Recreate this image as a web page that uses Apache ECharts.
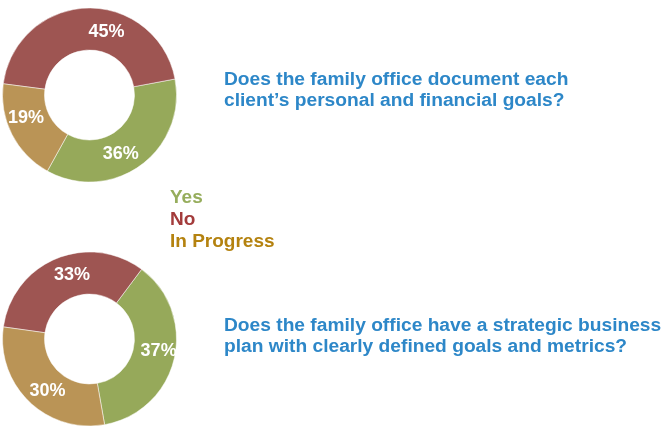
<!DOCTYPE html>
<html>
<head>
<meta charset="utf-8">
<script src="https://cdn.jsdelivr.net/npm/echarts@6/dist/echarts.min.js"></script>
<style>
html,body{margin:0;padding:0;background:#fff;}
#chart{width:671px;height:440px;}
</style>
</head>
<body>
<div id="chart"></div>
<script>
const categories = ['Yes', 'No', 'In Progress'];
const q1Values = [36, 45, 19];
const q2Values = [37, 33, 30];
const questions = [
  'Does the family office document each\nclient\u2019s personal and financial goals?',
  'Does the family office have a strategic business\nplan with clearly defined goals and metrics?'
];

const sliceColors = ['#96a95a', '#9e5552', '#ba9456'];
const legendColors = ['#96ad5c', '#a33b3b', '#b4820f'];
const q1LabelOffsets = [[-9, 3], [19, 6], [-2, -8]];
const q2LabelOffsets = [[2, -4], [9, 0], [6, 2]];
const FONT = '"Liberation Sans", Arial, sans-serif';

function buildData(values, offsets) {
  return categories.map((c, i) => ({
    name: c,
    value: values[i],
    itemStyle: { color: sliceColors[i] },
    label: { offset: offsets[i] }
  }));
}

function pieSeries(values, offsets, center, startAngle) {
  return {
    type: 'pie',
    center: center,
    radius: [45, 87],
    startAngle: startAngle,
    clockwise: false,
    avoidLabelOverlap: false,
    silent: true,
    itemStyle: { borderColor: '#ffffff', borderWidth: 0.5 },
    label: {
      show: true,
      position: 'inside',
      formatter: '{c}%',
      color: '#ffffff',
      fontSize: 18,
      fontWeight: 'bold',
      fontFamily: FONT
    },
    labelLine: { show: false },
    emphasis: { disabled: true },
    data: buildData(values, offsets)
  };
}

const chart = echarts.init(document.getElementById('chart'), null, { renderer: 'canvas' });
chart.setOption({
  animation: false,
  backgroundColor: '#ffffff',
  title: [
    {
      text: questions[0], left: 224, top: 69, padding: 0,
      textStyle: { color: '#2d87c8', fontSize: 19.2, fontWeight: 'bold', lineHeight: 21, fontFamily: FONT }
    },
    {
      text: questions[1], left: 224, top: 315, padding: 0,
      textStyle: { color: '#2d87c8', fontSize: 19.2, fontWeight: 'bold', lineHeight: 21, fontFamily: FONT }
    }
  ],
  legend: {
    orient: 'vertical',
    left: 165,
    top: 187,
    padding: 0,
    itemGap: 0,
    itemWidth: 0,
    itemHeight: 0,
    icon: 'none',
    selectedMode: false,
    textStyle: { fontSize: 19, fontWeight: 'bold', lineHeight: 22, fontFamily: FONT },
    data: categories.map((c, i) => ({ name: c, textStyle: { color: legendColors[i] } }))
  },
  series: [
    pieSeries(q1Values, q1LabelOffsets, [89.5, 95], 241),
    pieSeries(q2Values, q2LabelOffsets, [89.5, 339], 280)
  ]
});
</script>
</body>
</html>
